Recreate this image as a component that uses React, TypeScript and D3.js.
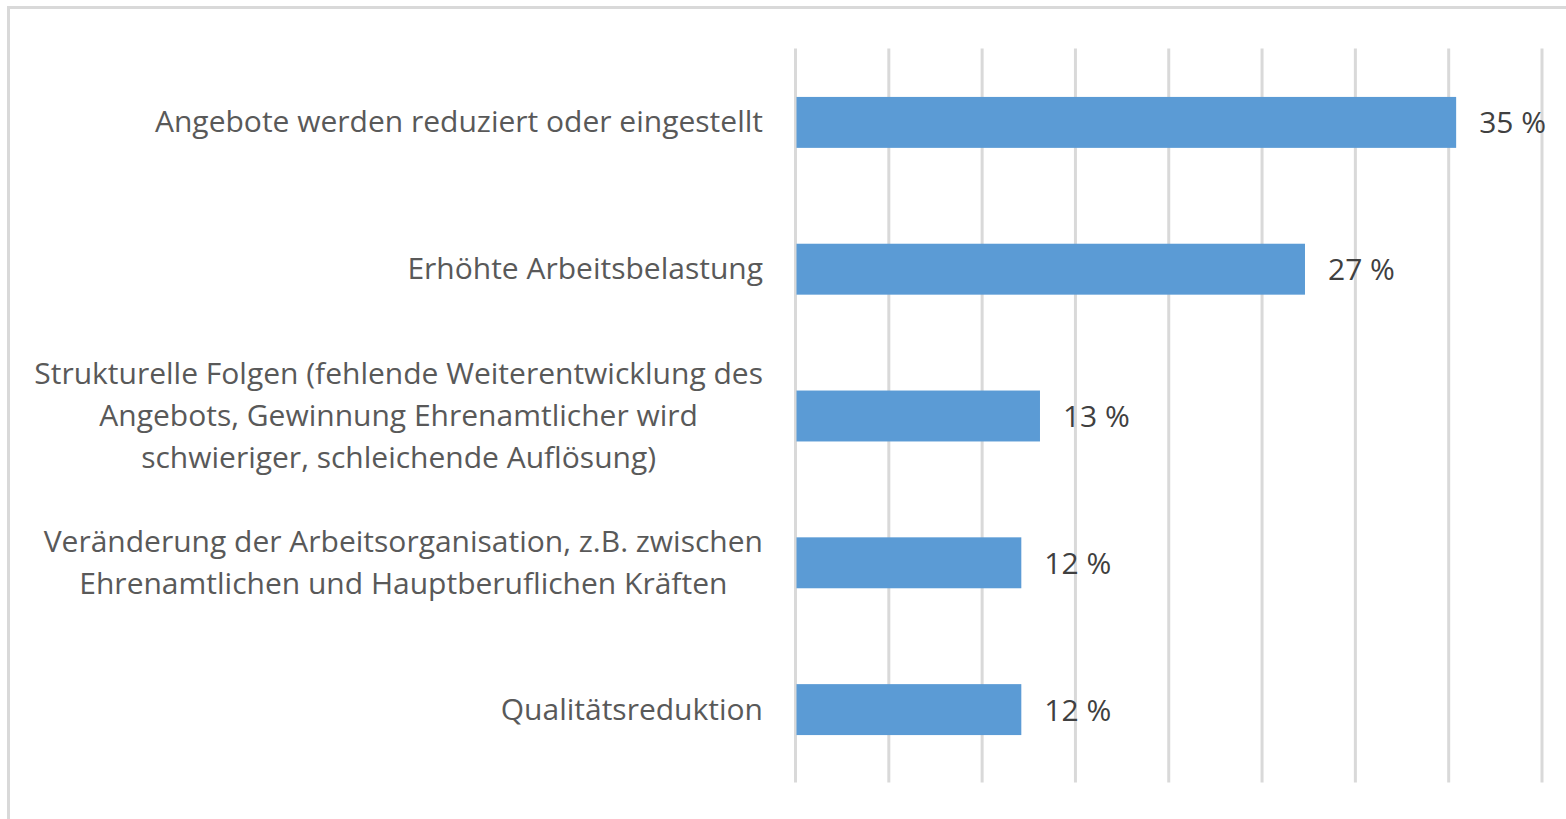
import React, { useRef, useEffect } from 'react';
import * as d3 from 'd3';

// categories, top to bottom ("\n" = line break in the label)
const categories = [
  'Angebote werden reduziert oder eingestellt',
  'Erhöhte Arbeitsbelastung',
  'Strukturelle Folgen (fehlende Weiterentwicklung des\nAngebots, Gewinnung Ehrenamtlicher wird\nschwieriger, schleichende Auflösung)',
  'Veränderung der Arbeitsorganisation, z.B. zwischen\nEhrenamtlichen und Hauptberuflichen Kräften',
  'Qualitätsreduktion',
];
const values = [35.4, 27.3, 13.1, 12.1, 12.1];
const gridTicks = [0, 5, 10, 15, 20, 25, 30, 35, 40];

const W = 1566;
const H = 819;
const FONT = '"Open Sans", "Noto Sans", sans-serif';
const FS = 30;

const App = () => {
  const svgRef = useRef<SVGSVGElement>(null);

  useEffect(() => {
    const svg = d3.select(svgRef.current);
    svg.selectAll('*').remove();

    const left = 795.5;
    const right = 1542;
    const top = 48.5;
    const bottom = 782.5;

    // chart frame (runs off the right and bottom edges)
    svg.append('rect')
      .attr('x', 8.5).attr('y', 7.5)
      .attr('width', W).attr('height', H)
      .attr('fill', '#fff')
      .attr('stroke', '#d9d9d9')
      .attr('stroke-width', 3);

    const x = d3.scaleLinear().domain([0, 40]).range([left, right]);
    const y = d3.scaleBand<string>()
      .domain(categories)
      .range([top, bottom])
      .paddingInner(0.653)
      .paddingOuter(0.3265);

    // vertical gridlines
    svg.append('g')
      .selectAll('line')
      .data(gridTicks)
      .enter()
      .append('line')
      .attr('x1', d => x(d)).attr('x2', d => x(d))
      .attr('y1', top).attr('y2', bottom)
      .attr('stroke', '#d9d9d9')
      .attr('stroke-width', 3);

    // bars
    svg.append('g')
      .selectAll('rect')
      .data(values)
      .enter()
      .append('rect')
      .attr('x', x(0) + 1)
      .attr('y', (d, i) => y(categories[i])! + 0.5)
      .attr('width', d => x(d) - x(0) - 1)
      .attr('height', y.bandwidth())
      .attr('fill', '#5b9bd5');

    // value labels
    svg.append('g')
      .selectAll('text')
      .data(values)
      .enter()
      .append('text')
      .attr('x', d => x(d) + 23)
      .attr('y', (d, i) => y(categories[i])! + y.bandwidth() / 2 + 1)
      .attr('dy', '0.35em')
      .attr('font-family', FONT)
      .attr('font-size', FS)
      .attr('fill', '#404040')
      .text(d => `${Math.round(d)} %`);

    // category labels: block right-aligned, lines centred within block
    const labelRight = 763;
    const lineH = 42;
    categories.forEach(cat => {
      const lines = cat.split('\n');
      const cy = y(cat)! + y.bandwidth() / 2;
      const g = svg.append('g');
      const texts = g.selectAll('text')
        .data(lines)
        .enter()
        .append('text')
        .attr('y', (d, i) => cy + (i - (lines.length - 1) / 2) * lineH)
        .attr('dy', '0.35em')
        .attr('text-anchor', 'middle')
        .attr('font-family', FONT)
        .attr('font-size', FS)
        .attr('fill', '#595959')
        .text(d => d);
      let maxW = 0;
      texts.each(function () {
        maxW = Math.max(maxW, (this as SVGTextElement).getComputedTextLength());
      });
      texts.attr('x', labelRight - maxW / 2);
    });
  }, []);

  return (
    <svg
      ref={svgRef}
      width={W}
      height={H}
      style={{ position: 'absolute', left: 0, top: 0, background: '#fff' }}
    />
  );
};

export default App;
